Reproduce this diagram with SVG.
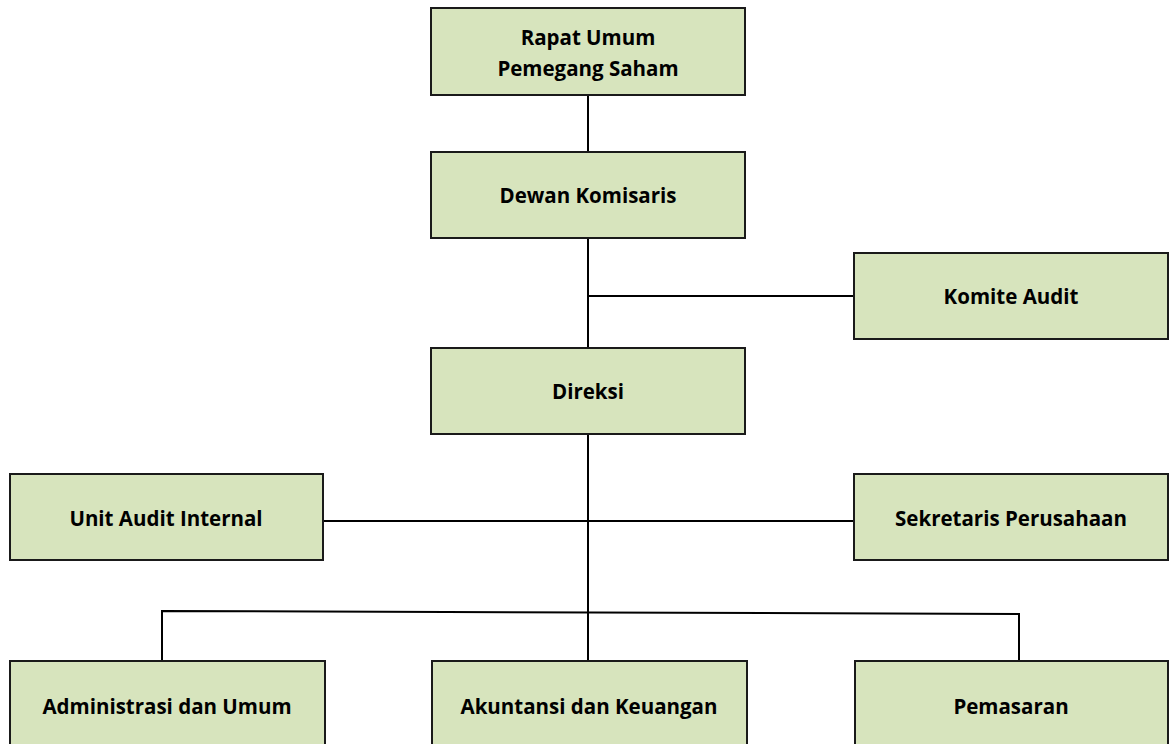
<svg xmlns="http://www.w3.org/2000/svg" width="1170" height="744" viewBox="0 0 1170 744">
<style>
.box{fill:#D7E4BD;stroke:#1a1a1a;stroke-width:2}
.lbl{font-family:"Open Sans","Liberation Sans",sans-serif;font-weight:bold;font-size:20.5px;fill:#000;text-anchor:middle}
.ln{stroke:#000;stroke-width:2;fill:none}
</style>
<rect width="1170" height="744" fill="#fff"/>
<g id="connectors">
<line class="ln" x1="588" y1="95" x2="588" y2="152"/>
<line class="ln" x1="588" y1="238" x2="588" y2="348"/>
<line class="ln" x1="588" y1="296" x2="854" y2="296"/>
<line class="ln" x1="588" y1="434" x2="588" y2="661"/>
<line class="ln" x1="323" y1="521" x2="854" y2="521"/>
<polyline class="ln" points="162,661 162,611 1019,614 1019,661"/>
</g>
<g id="rups"><rect class="box" x="431" y="8" width="314" height="87"/><text class="lbl" x="588" y="45">Rapat Umum</text><text class="lbl" x="588" y="76">Pemegang Saham</text></g>
<g id="dewan"><rect class="box" x="431" y="152" width="314" height="86"/><text class="lbl" x="588" y="203">Dewan Komisaris</text></g>
<g id="komite"><rect class="box" x="854" y="253" width="314" height="86"/><text class="lbl" x="1011" y="304">Komite Audit</text></g>
<g id="direksi"><rect class="box" x="431" y="348" width="314" height="86"/><text class="lbl" x="588" y="399">Direksi</text></g>
<g id="uai"><rect class="box" x="10" y="474" width="313" height="86"/><text class="lbl" x="166" y="526">Unit Audit Internal</text></g>
<g id="sekretaris"><rect class="box" x="854" y="474" width="314" height="86"/><text class="lbl" x="1011" y="526">Sekretaris Perusahaan</text></g>
<g id="adm"><rect class="box" x="10" y="661" width="315" height="100"/><text class="lbl" x="167" y="714">Administrasi dan Umum</text></g>
<g id="akt"><rect class="box" x="432" y="661" width="315" height="100"/><text class="lbl" x="589" y="714">Akuntansi dan Keuangan</text></g>
<g id="pms"><rect class="box" x="855" y="661" width="313" height="100"/><text class="lbl" x="1011" y="714">Pemasaran</text></g>
</svg>
